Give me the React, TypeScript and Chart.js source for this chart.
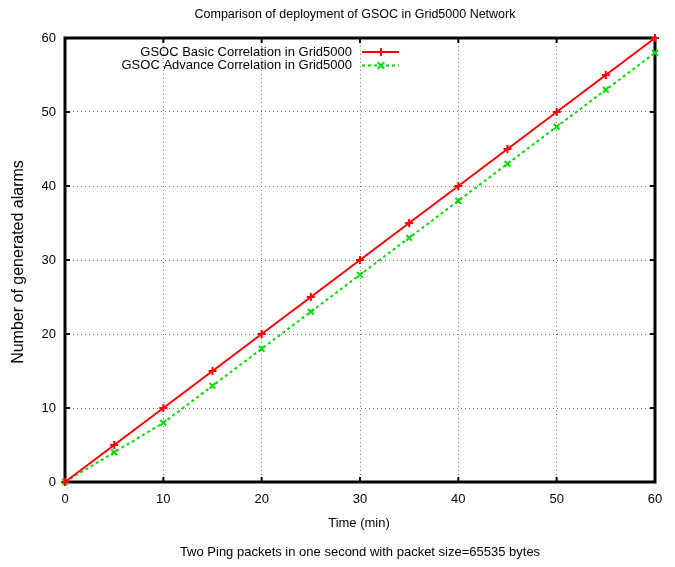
import React, { useEffect, useRef } from "react";
import { Chart, registerables } from "chart.js";

Chart.register(...registerables);

const chartTitle = "Comparison of deployment of GSOC in Grid5000 Network";
const xAxisTitle = "Time (min)";
const yAxisTitle = "Number of generated alarms";
const footNote = "Two Ping packets in one second with packet size=65535 bytes";

const timeMin = [0, 5, 10, 15, 20, 25, 30, 35, 40, 45, 50, 55, 60];
const basicAlarms = [0, 5, 10, 15, 20, 25, 30, 35, 40, 45, 50, 55, 60];
const advanceAlarms = [0, 4, 8, 13, 18, 23, 28, 33, 38, 43, 48, 53, 58];
const seriesNames = ["GSOC Basic Correlation in Grid5000", "GSOC Advance Correlation in Grid5000"];
const seriesColors = ["#ff0000", "#00dd00"];
const xTickValues = [0, 10, 20, 30, 40, 50, 60];
const yTickValues = [0, 10, 20, 30, 40, 50, 60];

const FONT = '"Liberation Sans", Arial, sans-serif';

const decorPlugin = {
  id: "decor",
  beforeDatasetsDraw(chart: any) {
    const { ctx, chartArea: a, scales } = chart;
    ctx.save();
    ctx.strokeStyle = "#000";
    ctx.lineWidth = 2;
    const tl = 5;
    xTickValues.forEach((v) => {
      const x = scales.x.getPixelForValue(v);
      ctx.beginPath();
      ctx.moveTo(x, a.bottom);
      ctx.lineTo(x, a.bottom - tl);
      ctx.moveTo(x, a.top);
      ctx.lineTo(x, a.top + tl);
      ctx.stroke();
    });
    yTickValues.forEach((v) => {
      const y = scales.y.getPixelForValue(v);
      ctx.beginPath();
      ctx.moveTo(a.left, y);
      ctx.lineTo(a.left + tl, y);
      ctx.moveTo(a.right, y);
      ctx.lineTo(a.right - tl, y);
      ctx.stroke();
    });
    ctx.lineWidth = 3;
    ctx.strokeRect(a.left, a.top, a.right - a.left, a.bottom - a.top);
    ctx.restore();
  },
  afterDraw(chart: any) {
    const { ctx, chartArea: a } = chart;
    ctx.save();
    ctx.fillStyle = "#000";
    ctx.textAlign = "center";
    ctx.textBaseline = "middle";
    ctx.font = `12.5px ${FONT}`;
    ctx.fillText(chartTitle, 355, 15);
    ctx.font = `13px ${FONT}`;
    ctx.fillText(xAxisTitle, 359, 523);
    ctx.fillText(footNote, 360, 552);
    ctx.save();
    ctx.font = `16px ${FONT}`;
    ctx.translate(19, 262);
    ctx.rotate(-Math.PI / 2);
    ctx.fillText(yAxisTitle, 0, 0);
    ctx.restore();

    // legend
    ctx.font = `13px ${FONT}`;
    const rows = [52, 65.5];
    ctx.textAlign = "right";
    seriesNames.forEach((name, i) => {
      const y = rows[i];
      ctx.fillStyle = "#000";
      ctx.fillText(name, 352, y);
      ctx.strokeStyle = seriesColors[i];
      ctx.lineWidth = 2;
      ctx.setLineDash(i === 0 ? [] : [3, 3]);
      ctx.beginPath();
      ctx.moveTo(362, y);
      ctx.lineTo(399, y);
      ctx.stroke();
      ctx.setLineDash([]);
      const cx = 381;
      const r = 4;
      ctx.lineWidth = 2;
      ctx.beginPath();
      if (i === 0) {
        ctx.moveTo(cx - r, y);
        ctx.lineTo(cx + r, y);
        ctx.moveTo(cx, y - r);
        ctx.lineTo(cx, y + r);
      } else {
        ctx.moveTo(cx - r * 0.8, y - r * 0.8);
        ctx.lineTo(cx + r * 0.8, y + r * 0.8);
        ctx.moveTo(cx - r * 0.8, y + r * 0.8);
        ctx.lineTo(cx + r * 0.8, y - r * 0.8);
      }
      ctx.stroke();
    });
    ctx.restore();
  },
};

export default function App() {
  const ref = useRef<HTMLCanvasElement | null>(null);
  useEffect(() => {
    if (!ref.current) return;
    const gridColor = (c: any) =>
      c.tick && (c.tick.value === 0 || c.tick.value === 60) ? "rgba(0,0,0,0)" : "#777";
    const chart = new Chart(ref.current, {
      type: "line",
      data: {
        datasets: [
          {
            label: seriesNames[0],
            data: timeMin.map((t, i) => ({ x: t, y: basicAlarms[i] })),
            borderColor: seriesColors[0],
            backgroundColor: seriesColors[0],
            borderWidth: 2,
            pointStyle: "cross",
            pointRadius: 4,
            pointBorderWidth: 2,
            pointBorderColor: seriesColors[0],
            tension: 0,
            clip: false as any,
            order: 1,
          },
          {
            label: seriesNames[1],
            data: timeMin.map((t, i) => ({ x: t, y: advanceAlarms[i] })),
            borderColor: seriesColors[1],
            backgroundColor: seriesColors[1],
            borderWidth: 2,
            borderDash: [3, 3],
            pointStyle: "crossRot",
            pointRadius: 4,
            pointBorderWidth: 2,
            pointBorderColor: seriesColors[1],
            tension: 0,
            clip: false as any,
            order: 2,
          },
        ],
      },
      options: {
        responsive: false,
        animation: false,
        layout: { padding: { top: 38, right: 20, left: 0, bottom: 0 } },
        plugins: {
          legend: { display: false },
          title: { display: false },
          tooltip: { enabled: false },
        },
        scales: {
          x: {
            type: "linear",
            min: 0,
            max: 60,
            afterFit: (s: any) => {
              s.height = 85;
            },
            afterBuildTicks: (s: any) => {
              s.ticks = xTickValues.map((v) => ({ value: v }));
            },
            ticks: {
              color: "#000",
              font: { family: FONT, size: 13 },
              padding: 10,
              maxRotation: 0,
            },
            grid: { color: gridColor, lineWidth: 1, drawTicks: false, tickLength: 0 },
            border: { display: false, dash: [1, 3] },
          },
          y: {
            type: "linear",
            min: 0,
            max: 60,
            afterFit: (s: any) => {
              s.width = 65;
            },
            afterBuildTicks: (s: any) => {
              s.ticks = yTickValues.map((v) => ({ value: v }));
            },
            ticks: {
              color: "#000",
              font: { family: FONT, size: 13 },
              padding: 9,
            },
            grid: { color: gridColor, lineWidth: 1, drawTicks: false, tickLength: 0 },
            border: { display: false, dash: [1, 3] },
          },
        },
      },
      plugins: [decorPlugin],
    });
    return () => chart.destroy();
  }, []);
  return (
    <div style={{ position: "fixed", left: 0, top: 0, width: 675, height: 567, background: "#fff" }}>
      <canvas ref={ref} width={675} height={567} style={{ width: 675, height: 567, display: "block" }} />
    </div>
  );
}
